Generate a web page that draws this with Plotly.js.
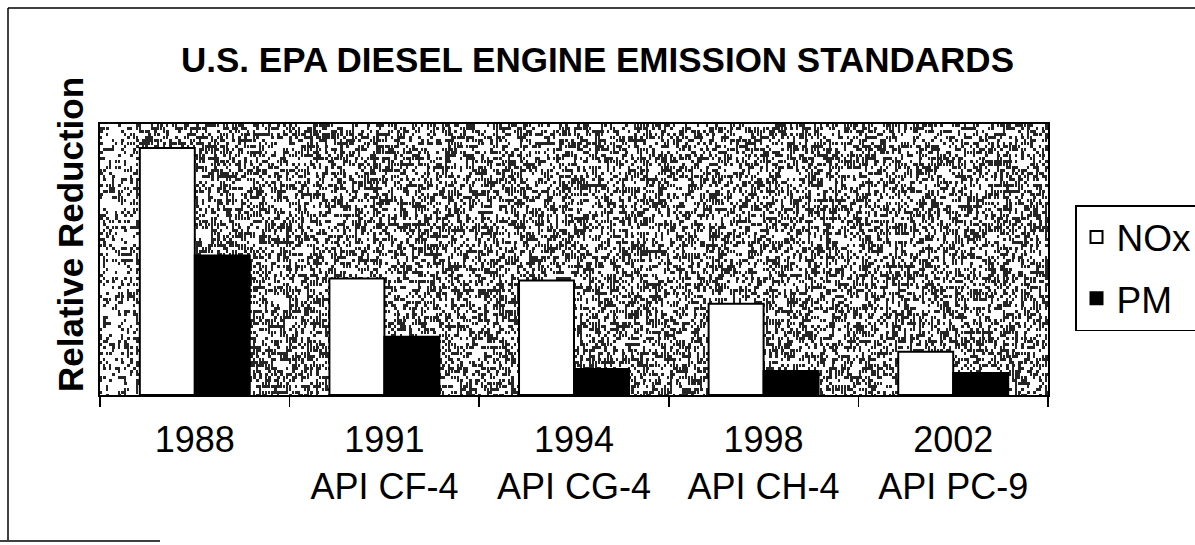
<!DOCTYPE html>
<html>
<head>
<meta charset="utf-8">
<script src="https://cdn.plot.ly/plotly-3.0.1.min.js"></script>
<style>html,body{margin:0;padding:0;background:#fff;}#chart{width:1195px;height:545px;}</style>
</head>
<body>
<div id="chart"></div>
<script>
// Data (relative heights)
var categories = ["1988", "1991", "1994", "1998", "2002"];
var tickLabels = ["1988", "1991<br>API CF-4", "1994<br>API CG-4", "1998<br>API CH-4", "2002<br>API PC-9"];
var noxValues = [246, 116, 114, 91, 43];
var pmValues = [139, 58, 26, 24, 22];

// Speckled background texture (style only)
function makeTexture(w, h) {
  var c = document.createElement('canvas');
  c.width = w; c.height = h;
  var ctx = c.getContext('2d');
  ctx.fillStyle = '#ffffff';
  ctx.fillRect(0, 0, w, h);
  var seed = 12345;
  function rnd() { seed = (seed * 1103515245 + 12345) & 0x7fffffff; return seed / 0x7fffffff; }
  ctx.fillStyle = '#000000';
  var cell = 3;
  for (var y = 0; y < h; y += cell) {
    for (var x = 0; x < w; x += cell) {
      var p = x < 35 ? 0.3 : 0.5;
      if (rnd() < p) ctx.fillRect(x, y, cell - (rnd() < 0.5 ? 1 : 0), cell);
    }
  }
  return c.toDataURL('image/png');
}

var L = 100, R = 1048, T = 124, B = 395, W = 1195, H = 545;
var pw = R - L, ph = B - T;
function px(x) { return (x - L) / pw; }
function py(y) { return (B - y) / ph; }

var traces = [
  { type: 'bar', name: 'NOx', x: categories, y: noxValues, legendgroup: 'a',
    marker: { color: '#ffffff', line: { color: '#000000', width: 2 } } },
  { type: 'bar', name: 'PM', x: categories, y: pmValues, legendgroup: 'b',
    marker: { color: '#000000', line: { color: '#000000', width: 2 } } }
];

var layout = {
  width: W, height: H,
  margin: { l: L, r: W - R, t: T, b: H - B, pad: 0, autoexpand: false },
  paper_bgcolor: '#ffffff',
  plot_bgcolor: 'rgba(0,0,0,0)',
  font: { family: 'Liberation Sans, Arial, sans-serif', color: '#000000' },
  title: { text: '<b>U.S. EPA DIESEL ENGINE EMISSION STANDARDS</b>',
    font: { size: 35, family: 'Liberation Sans, Arial, sans-serif', color: '#000' },
    x: 0.5, xanchor: 'center', y: 1 - 60 / H, yanchor: 'middle' },
  barmode: 'group',
  bargap: 0.42,
  bargroupgap: 0,
  showlegend: true,
  legend: { xref: 'container', yref: 'container', x: 1075 / W, y: 1 - 205 / H,
    xanchor: 'left', yanchor: 'top',
    bordercolor: '#000', borderwidth: 1.5, bgcolor: '#fff',
    traceorder: 'grouped', tracegroupgap: 10,
    font: { size: 37, color: '#000' } },
  xaxis: {
    type: 'category',
    tickvals: categories, ticktext: tickLabels,
    tickson: 'boundaries', ticks: 'outside', ticklen: 10, tickwidth: 1.5, tickcolor: '#000',
    showline: true, linecolor: '#000', linewidth: 2, mirror: true,
    showgrid: false, zeroline: false, automargin: false,
    tickfont: { size: 36, color: '#000' },
    ticklabelstandoff: 12
  },
  yaxis: {
    range: [0, 270], automargin: false,
    showticklabels: false, ticks: '', showgrid: false, zeroline: false,
    showline: true, linecolor: '#000', linewidth: 2, mirror: true
  },
  images: [{ source: makeTexture(pw, ph), xref: 'paper', yref: 'paper',
    x: 0, y: 1, sizex: 1, sizey: 1, xanchor: 'left', yanchor: 'top',
    sizing: 'stretch', layer: 'below', opacity: 0.85 }],
  annotations: [{
    text: '<b>Relative Reduction</b>', textangle: -90,
    xref: 'paper', yref: 'paper', x: px(70), y: py(235),
    xanchor: 'center', yanchor: 'middle', showarrow: false,
    font: { size: 35, color: '#000' }
  }],
  shapes: [
    { type: 'line', xref: 'paper', yref: 'paper', x0: px(8), x1: px(1200), y0: py(8), y1: py(8), line: { color: '#000', width: 1.5 } },
    { type: 'line', xref: 'paper', yref: 'paper', x0: px(8), x1: px(8), y0: py(8), y1: py(540), line: { color: '#000', width: 1.5 } },
    { type: 'line', xref: 'paper', yref: 'paper', x0: px(0), x1: px(160), y0: py(541), y1: py(541), line: { color: '#000', width: 1.5 } }
  ]
};

Plotly.newPlot('chart', traces, layout, { displayModeBar: false, staticPlot: true });
</script>
</body>
</html>
